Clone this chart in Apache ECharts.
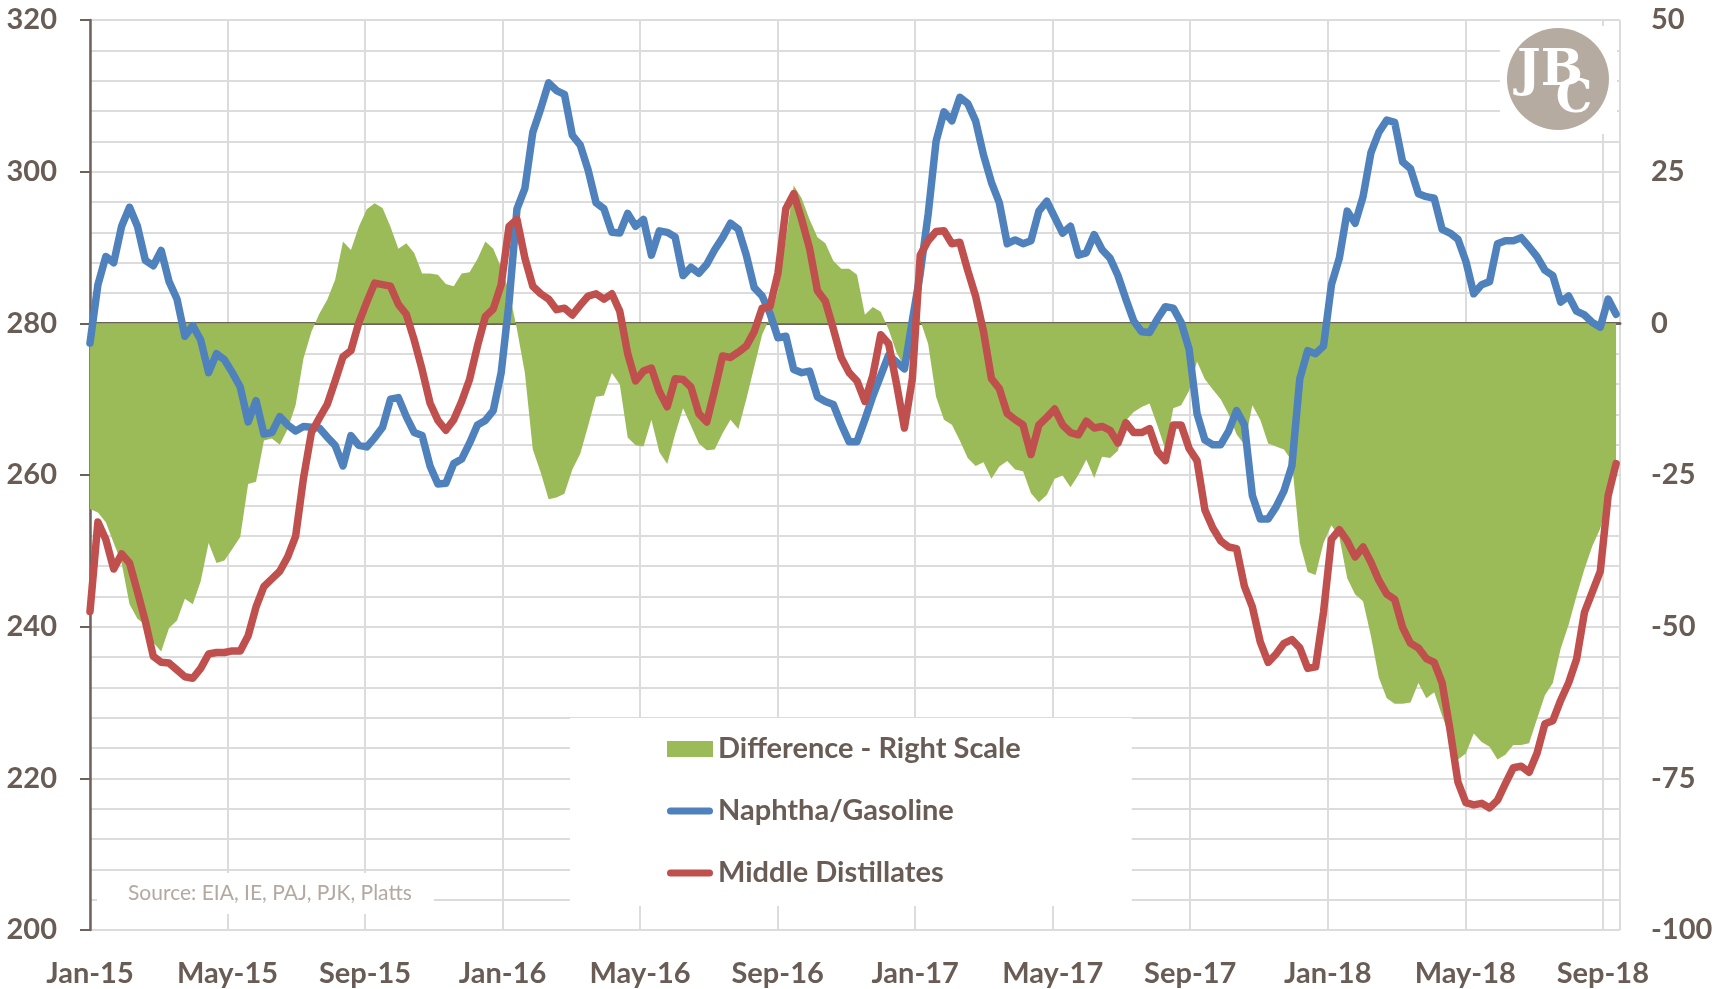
<!DOCTYPE html>
<html>
<head>
<meta charset="utf-8">
<title>Naphtha/Gasoline vs Middle Distillates</title>
<script src="https://cdn.jsdelivr.net/npm/echarts@6.0.0/dist/echarts.min.js"></script>
<style>
  html, body { margin: 0; padding: 0; background: #fff; }
  #chart { width: 1729px; height: 989px; }
</style>
</head>
<body>
<div id="chart"></div>
<script>
// weekly points, first week of Jan-15 onwards
const naphtha = [
  277.4, 285.1, 288.8, 288.0, 292.8, 295.3, 292.8, 288.3, 287.6, 289.6,
  285.5, 283.2, 278.3, 279.7, 277.8, 273.5, 276.0, 275.2, 273.5, 271.6,
  267.0, 269.8, 265.4, 265.6, 267.7, 266.6, 265.8, 266.4, 266.3, 266.2,
  265.0, 263.9, 261.2, 265.2, 263.9, 263.7, 264.9, 266.3, 270.0, 270.2,
  267.7, 265.6, 265.2, 261.2, 258.8, 258.9, 261.5, 262.1, 264.2, 266.6,
  267.2, 268.5, 273.5, 282.8, 295.1, 297.8, 305.2, 308.3, 311.7, 310.7,
  310.2, 304.8, 303.5, 300.2, 295.9, 295.1, 292.0, 291.9, 294.5, 292.8,
  293.7, 289.0, 292.2, 292.0, 291.4, 286.3, 287.4, 286.6, 287.8, 289.7,
  291.3, 293.2, 292.4, 289.0, 284.7, 283.6, 281.3, 278.1, 278.3, 273.9,
  273.5, 273.7, 270.3, 269.7, 269.3, 266.7, 264.4, 264.4, 267.3, 270.4,
  273.1, 275.8, 274.9, 274.0, 280.4, 286.6, 294.4, 304.0, 307.9, 306.7,
  309.8, 309.0, 306.7, 302.2, 298.6, 295.9, 290.5, 291.0, 290.5, 290.9,
  294.8, 296.1, 294.0, 291.9, 292.8, 289.0, 289.3, 291.7, 289.7, 288.6,
  286.3, 283.2, 280.3, 278.9, 278.8, 280.6, 282.2, 282.0, 280.1, 276.6,
  268.1, 264.6, 264.0, 264.0, 265.8, 268.5, 266.6, 257.3, 254.2, 254.2,
  255.8, 257.9, 261.2, 272.7, 276.4, 276.0, 277.0, 285.1, 288.6, 294.8,
  293.2, 296.7, 302.5, 305.2, 306.8, 306.5, 301.3, 300.4, 297.1, 296.7,
  296.5, 292.4, 291.9, 291.1, 288.2, 283.9, 285.1, 285.5, 290.5, 290.9,
  290.9, 291.3, 290.1, 288.8, 287.0, 286.3, 282.8, 283.6, 281.6, 281.1,
  280.1, 279.5, 283.2, 281.2
];

const middleDistillates = [
  242.0, 253.8, 251.5, 247.6, 249.6, 248.4, 244.6, 240.7, 236.1, 235.3,
  235.2, 234.3, 233.4, 233.2, 234.5, 236.4, 236.6, 236.6, 236.8, 236.8,
  238.8, 242.6, 245.3, 246.3, 247.3, 249.2, 251.9, 259.6, 265.6, 267.5,
  269.3, 272.4, 275.6, 276.4, 280.1, 282.8, 285.3, 285.1, 284.9, 282.5,
  281.2, 277.8, 273.9, 269.5, 267.2, 265.9, 267.3, 269.7, 272.6, 277.0,
  280.9, 281.9, 285.1, 292.8, 293.7, 288.6, 284.9, 283.9, 283.2, 281.8,
  282.0, 281.1, 282.4, 283.6, 283.9, 283.2, 283.9, 281.6, 276.0, 272.4,
  273.7, 274.1, 271.0, 269.0, 272.7, 272.6, 271.6, 268.1, 267.0, 271.2,
  275.7, 275.5, 276.2, 277.0, 278.9, 282.0, 282.2, 286.6, 295.1, 297.1,
  293.7, 289.9, 284.3, 282.9, 279.3, 275.5, 273.5, 272.4, 269.7, 273.1,
  278.5, 277.3, 272.0, 266.2, 272.7, 289.0, 290.9, 292.1, 292.2, 290.5,
  290.7, 287.0, 283.6, 278.9, 272.7, 271.4, 268.1, 267.3, 266.6, 262.7,
  266.6, 267.6, 268.7, 266.6, 265.6, 265.3, 267.1, 266.2, 266.4, 265.9,
  264.2, 266.9, 265.6, 265.6, 266.1, 263.1, 261.9, 266.6, 266.6, 263.5,
  261.9, 255.4, 253.0, 251.3, 250.5, 250.3, 245.3, 242.6, 238.0, 235.3,
  236.4, 237.8, 238.3, 237.2, 234.5, 234.7, 241.9, 251.5, 252.8, 251.3,
  249.2, 250.5, 248.5, 246.1, 244.3, 243.6, 239.9, 237.8, 237.2, 235.8,
  235.3, 232.6, 226.4, 219.5, 216.8, 216.5, 216.7, 216.1, 217.1, 219.3,
  221.4, 221.6, 220.8, 223.3, 227.2, 227.6, 230.3, 232.6, 235.7, 241.9,
  244.6, 247.3, 257.3, 261.5
];

// right scale
const difference = [
  -30.6, -31.2, -32.8, -36.2, -39.5, -46.3, -48.7, -49.7, -52.6, -54.1,
  -50.2, -49.0, -45.4, -46.3, -42.5, -36.2, -39.5, -39.1, -37.2, -35.2,
  -26.5, -26.1, -19.3, -19.0, -20.0, -17.4, -13.5, -5.8, -1.4, 1.6,
  3.9, 7.2, 13.5, 12.1, 15.9, 18.8, 19.8, 19.0, 15.9, 12.3,
  13.2, 11.6, 8.2, 8.2, 8.0, 6.5, 6.1, 8.2, 8.4, 10.6,
  13.5, 12.3, 9.2, 5.3, -1.0, -8.2, -20.8, -24.6, -29.0, -28.7,
  -28.1, -24.1, -21.5, -16.9, -12.1, -11.9, -8.2, -10.1, -18.8, -20.1,
  -20.3, -15.9, -21.2, -23.2, -18.3, -14.0, -16.9, -19.8, -20.9, -20.8,
  -18.1, -15.9, -17.4, -12.5, -7.2, -1.9, 1.0, 5.3, 14.0, 22.7,
  20.6, 17.1, 14.2, 13.2, 10.3, 9.0, 9.0, 8.0, 1.4, 2.7,
  1.9, -1.0, -4.8, -7.2, -3.4, 0.5, -3.4, -12.1, -15.9, -16.7,
  -19.3, -22.2, -23.5, -22.9, -25.6, -23.6, -22.7, -24.1, -24.4, -28.0,
  -29.5, -28.3, -25.6, -25.1, -27.0, -25.0, -22.5, -25.5, -22.0, -22.2,
  -21.0, -16.0, -14.6, -13.8, -13.2, -16.9, -20.8, -14.0, -13.5, -11.1,
  -6.3, -9.2, -10.9, -12.5, -15.0, -18.3, -20.0, -13.5, -15.9, -19.8,
  -20.3, -20.8, -22.7, -36.2, -41.0, -41.5, -36.2, -33.3, -35.2, -42.0,
  -44.7, -45.8, -51.6, -58.4, -61.8, -62.7, -62.7, -62.5, -59.3, -61.8,
  -60.8, -64.7, -68.2, -71.9, -70.9, -67.6, -69.0, -69.8, -71.9, -71.1,
  -69.5, -69.5, -69.2, -65.2, -61.3, -59.3, -53.6, -49.7, -44.9, -40.5,
  -36.7, -33.8, -28.5, -22.7
];

const tickLabels = [
  'Jan-15', 'May-15', 'Sep-15', 'Jan-16', 'May-16', 'Sep-16',
  'Jan-17', 'May-17', 'Sep-17', 'Jan-18', 'May-18', 'Sep-18'
];

const WEEK = 7 / 30.4375; // one week, in months from Jan-15
const toPoints = (arr) => arr.map((v, i) => [i * WEEK, v]);

const TEXT = '#685c54';
const AXIS = '#6e625a';
const GRID = '#dcdcdc';
const FONT = 'Lato, "Open Sans", sans-serif';

const lineIcon = 'path://M3.5,0 L42.5,0 A3.5,3.5 0 0 1 42.5,7 L3.5,7 A3.5,3.5 0 0 1 3.5,0 Z';

const chart = echarts.init(document.getElementById('chart'));

chart.setOption({
  animation: false,
  textStyle: { fontFamily: FONT },
  grid: { left: 90, right: 109, top: 20, bottom: 59 },
  title: {
    text: 'Source: EIA, IE, PAJ, PJK, Platts',
    left: 97,
    top: 873,
    backgroundColor: '#fff',
    padding: [10, 22, 10, 31],
    textStyle: { fontFamily: FONT, fontSize: 21, fontWeight: 'normal', color: '#b3a9a1' },
  },
  legend: {
    orient: 'vertical',
    left: 570,
    top: 718,
    backgroundColor: '#fff',
    padding: [15, 111, 17, 97],
    itemWidth: 46,
    itemHeight: 16,
    itemGap: 30,
    itemStyle: { borderWidth: 0 },
    textStyle: { fontFamily: FONT, fontSize: 29, fontWeight: 'bold', color: TEXT, lineHeight: 32 },
    data: [
      { name: 'Difference - Right Scale', icon: 'rect' },
      { name: 'Naphtha/Gasoline', icon: lineIcon },
      { name: 'Middle Distillates', icon: lineIcon },
    ],
  },
  xAxis: {
    type: 'value',
    min: 0,
    max: 44.5,
    interval: 4,
    axisLine: { lineStyle: { color: AXIS, width: 3 } },
    axisTick: { show: false },
    axisLabel: {
      margin: 29,
      fontSize: 29,
      fontWeight: 'bold',
      color: TEXT,
      formatter: (v) => (v % 4 === 0 ? tickLabels[v / 4] : ''),
    },
    splitLine: { show: true, lineStyle: { color: GRID, width: 2 } },
  },
  yAxis: [
    {
      type: 'value',
      min: 200,
      max: 320,
      interval: 20,
      axisLine: { show: true, lineStyle: { color: AXIS, width: 2.5 } },
      axisTick: { show: true, length: 10, lineStyle: { color: AXIS, width: 2 } },
      axisLabel: { margin: 33, fontSize: 29, fontWeight: 'bold', color: TEXT },
      splitLine: { lineStyle: { color: GRID, width: 2 } },
      minorTick: { show: false, splitNumber: 5 },
      minorSplitLine: { show: true, lineStyle: { color: GRID, width: 2 } },
    },
    {
      type: 'value',
      min: -100,
      max: 50,
      interval: 25,
      axisLine: { show: false },
      axisTick: { show: false },
      axisLabel: { margin: 31, fontSize: 29, fontWeight: 'bold', color: TEXT },
      splitLine: { show: false },
    },
  ],
  series: [
    {
      name: 'Difference - Right Scale',
      type: 'line',
      yAxisIndex: 1,
      symbol: 'none',
      itemStyle: { color: '#9bbb59' },
      lineStyle: { width: 0 },
      areaStyle: { color: '#9bbb59', opacity: 1 },
      data: toPoints(difference),
    },
    {
      name: 'Naphtha/Gasoline',
      type: 'line',
      symbol: 'none',
      itemStyle: { color: '#4f81bd' },
      lineStyle: { color: '#4f81bd', width: 7.5, cap: 'round', join: 'round' },
      data: toPoints(naphtha),
    },
    {
      name: 'Middle Distillates',
      type: 'line',
      symbol: 'none',
      itemStyle: { color: '#c0504d' },
      lineStyle: { color: '#c0504d', width: 7.5, cap: 'round', join: 'round' },
      data: toPoints(middleDistillates),
    },
  ],
  graphic: [
    // logo, top right
    { type: 'rect', shape: { x: 1500, y: 26, width: 117, height: 108 }, style: { fill: '#fff' }, z: 5 },
    { type: 'circle', shape: { cx: 1558, cy: 79, r: 51 }, style: { fill: '#b5aba0' }, z: 6 },
    {
      type: 'text', x: 1550, y: 72, z: 7,
      style: { text: 'JB', fill: '#fff', font: 'bold 50px "DejaVu Serif", serif', align: 'center', verticalAlign: 'middle' },
    },
    {
      type: 'text', x: 1574, y: 100, z: 7,
      style: { text: 'C', fill: '#fff', font: 'bold 46px "DejaVu Serif", serif', align: 'center', verticalAlign: 'middle' },
    },
  ],
});
</script>
</body>
</html>
